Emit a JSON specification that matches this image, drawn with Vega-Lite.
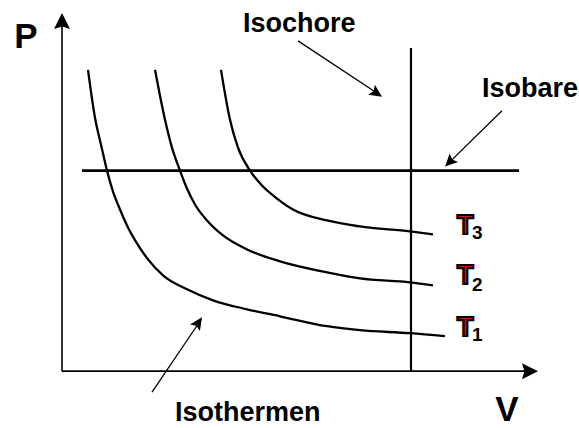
{
  "$schema": "https://vega.github.io/schema/vega-lite/v6.json",
  "width": 579,
  "height": 428,
  "autosize": {"type": "fit", "contains": "padding"},
  "padding": 0,
  "background": "white",
  "config": {"view": {"stroke": null}},
  "datasets": {
    "curves": [
      {"curve": "T1", "V": 88, "P": 358}, {"curve": "T1", "V": 95, "P": 310}, {"curve": "T1", "V": 101, "P": 283},
      {"curve": "T1", "V": 107, "P": 257}, {"curve": "T1", "V": 113, "P": 236}, {"curve": "T1", "V": 120, "P": 218},
      {"curve": "T1", "V": 128, "P": 200}, {"curve": "T1", "V": 137, "P": 184}, {"curve": "T1", "V": 148, "P": 168},
      {"curve": "T1", "V": 163, "P": 152}, {"curve": "T1", "V": 187, "P": 138}, {"curve": "T1", "V": 213, "P": 127},
      {"curve": "T1", "V": 247, "P": 118}, {"curve": "T1", "V": 280, "P": 111}, {"curve": "T1", "V": 327, "P": 101},
      {"curve": "T1", "V": 360, "P": 97}, {"curve": "T1", "V": 410, "P": 94}, {"curve": "T1", "V": 445, "P": 91},
      {"curve": "T2", "V": 155, "P": 358}, {"curve": "T2", "V": 165, "P": 308}, {"curve": "T2", "V": 172, "P": 280},
      {"curve": "T2", "V": 180, "P": 257}, {"curve": "T2", "V": 187, "P": 239}, {"curve": "T2", "V": 195, "P": 223},
      {"curve": "T2", "V": 207, "P": 207}, {"curve": "T2", "V": 223, "P": 192}, {"curve": "T2", "V": 247, "P": 178},
      {"curve": "T2", "V": 280, "P": 166}, {"curve": "T2", "V": 327, "P": 155}, {"curve": "T2", "V": 360, "P": 149},
      {"curve": "T2", "V": 410, "P": 145}, {"curve": "T2", "V": 433, "P": 142},
      {"curve": "T3", "V": 221, "P": 358}, {"curve": "T3", "V": 230, "P": 308}, {"curve": "T3", "V": 238, "P": 280},
      {"curve": "T3", "V": 250, "P": 257}, {"curve": "T3", "V": 262, "P": 242}, {"curve": "T3", "V": 277, "P": 229},
      {"curve": "T3", "V": 293, "P": 218}, {"curve": "T3", "V": 327, "P": 207}, {"curve": "T3", "V": 360, "P": 201},
      {"curve": "T3", "V": 410, "P": 196}, {"curve": "T3", "V": 433, "P": 193}
    ],
    "segs": [
      {"kind": "axis", "V": 62, "P": 56, "V2": 62, "P2": 405},
      {"kind": "axis", "V": 62, "P": 56, "V2": 528, "P2": 56},
      {"kind": "isobar", "V": 82, "P": 257, "V2": 519, "P2": 257},
      {"kind": "isochore", "V": 411, "P": 56, "V2": 411, "P2": 380},
      {"kind": "arrow", "V": 298, "P": 387, "V2": 378, "P2": 334},
      {"kind": "arrow", "V": 502, "P": 317, "V2": 448, "P2": 264},
      {"kind": "arrow", "V": 152, "P": 35, "V2": 200, "P2": 106}
    ],
    "heads": [
      {"kind": "axis", "V": 62, "P": 415, "dir": 0},
      {"kind": "axis", "V": 538, "P": 56, "dir": 90},
      {"kind": "arrow", "V": 382, "P": 331, "dir": 124},
      {"kind": "arrow", "V": 445, "P": 261, "dir": 225},
      {"kind": "arrow", "V": 202, "P": 110, "dir": 34}
    ],
    "labels": [
      {"role": "axis", "text": "P", "V": 26, "P": 380},
      {"role": "axis", "text": "V", "V": 507, "P": 6},
      {"role": "name", "text": "Isochore", "V": 243, "P": 396},
      {"role": "name", "text": "Isobare", "V": 482, "P": 331},
      {"role": "name", "text": "Isothermen", "V": 175, "P": 6},
      {"role": "T", "text": "T", "V": 457, "P": 193},
      {"role": "T", "text": "T", "V": 457, "P": 143},
      {"role": "T", "text": "T", "V": 457, "P": 91},
      {"role": "sub", "text": "3", "V": 472, "P": 188},
      {"role": "sub", "text": "2", "V": 472, "P": 136},
      {"role": "sub", "text": "1", "V": 472, "P": 86}
    ]
  },
  "encoding": {
    "x": {"field": "V", "type": "quantitative", "scale": {"domain": [0, 579], "nice": false, "zero": false}, "axis": null},
    "y": {"field": "P", "type": "quantitative", "scale": {"domain": [0, 428], "nice": false, "zero": false}, "axis": null}
  },
  "layer": [
    {
      "data": {"name": "curves"},
      "mark": {"type": "line", "interpolate": "monotone", "color": "black", "strokeWidth": 2.3},
      "encoding": {"detail": {"field": "curve"}}
    },
    {
      "data": {"name": "segs"},
      "transform": [{"filter": "datum.kind === 'axis'"}],
      "mark": {"type": "rule", "color": "black", "strokeWidth": 1.6},
      "encoding": {"x2": {"field": "V2"}, "y2": {"field": "P2"}}
    },
    {
      "data": {"name": "segs"},
      "transform": [{"filter": "datum.kind === 'isobar'"}],
      "mark": {"type": "rule", "color": "black", "strokeWidth": 2.6},
      "encoding": {"x2": {"field": "V2"}, "y2": {"field": "P2"}}
    },
    {
      "data": {"name": "segs"},
      "transform": [{"filter": "datum.kind === 'isochore'"}],
      "mark": {"type": "rule", "color": "black", "strokeWidth": 2.2},
      "encoding": {"x2": {"field": "V2"}, "y2": {"field": "P2"}}
    },
    {
      "data": {"name": "segs"},
      "transform": [{"filter": "datum.kind === 'arrow'"}],
      "mark": {"type": "rule", "color": "black", "strokeWidth": 1.3},
      "encoding": {"x2": {"field": "V2"}, "y2": {"field": "P2"}}
    },
    {
      "data": {"name": "heads"},
      "transform": [{"filter": "datum.kind === 'axis'"}],
      "mark": {"type": "point", "shape": "M0,0 L-1,2 L0,1.7 L1,2 Z", "size": 256, "filled": true, "color": "black", "opacity": 1, "strokeWidth": 0},
      "encoding": {"angle": {"field": "dir", "type": "quantitative", "scale": null}}
    },
    {
      "data": {"name": "heads"},
      "transform": [{"filter": "datum.kind === 'arrow'"}],
      "mark": {"type": "point", "shape": "M0,0 L-0.95,2 L0,1.6 L0.95,2 Z", "size": 160, "filled": true, "color": "black", "opacity": 1, "strokeWidth": 0},
      "encoding": {"angle": {"field": "dir", "type": "quantitative", "scale": null}}
    },
    {
      "data": {"name": "labels"},
      "transform": [{"filter": "datum.role === 'axis'"}],
      "mark": {"type": "text", "font": "Liberation Sans", "fontWeight": "bold", "fontSize": 35, "align": "center", "baseline": "alphabetic", "color": "black"},
      "encoding": {"text": {"field": "text"}}
    },
    {
      "data": {"name": "labels"},
      "transform": [{"filter": "datum.role === 'name'"}],
      "mark": {"type": "text", "font": "Liberation Sans", "fontWeight": "bold", "fontSize": 27, "align": "left", "baseline": "alphabetic", "color": "black"},
      "encoding": {"text": {"field": "text"}}
    },
    {
      "data": {"name": "labels"},
      "transform": [{"filter": "datum.role === 'T'"}],
      "mark": {"type": "text", "font": "Liberation Sans", "fontWeight": "bold", "fontSize": 27, "align": "left", "baseline": "alphabetic", "fill": "#e01010", "stroke": "black", "strokeWidth": 2.2},
      "encoding": {"text": {"field": "text"}}
    },
    {
      "data": {"name": "labels"},
      "transform": [{"filter": "datum.role === 'sub'"}],
      "mark": {"type": "text", "font": "Liberation Sans", "fontWeight": "bold", "fontSize": 19, "align": "left", "baseline": "alphabetic", "color": "black"},
      "encoding": {"text": {"field": "text"}}
    }
  ]
}
